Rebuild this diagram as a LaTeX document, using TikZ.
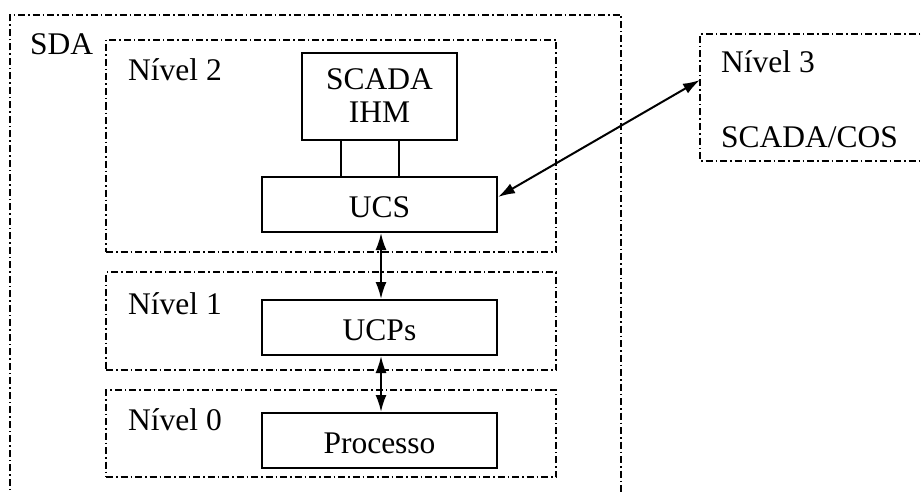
\documentclass[tikz,border=0pt]{standalone}
\usepackage{fontspec}
\setmainfont{Liberation Serif}
\usetikzlibrary{arrows.meta}
\begin{document}
\begin{tikzpicture}[x=1pt,y=-1pt,
  every node/.style={font=\fontsize{31.5}{36}\selectfont, inner sep=0pt},
  unit/.style={draw, line width=2pt, minimum width=235pt, minimum height=55pt},
  zone/.style={draw, line width=1.8pt, dash pattern=on 7pt off 3pt on 1.5pt off 3pt},
  label/.style={anchor=base west},
  tip/.style={Latex[length=17pt,width=11pt]},
  link/.style={line width=2pt, {Latex[length=17pt,width=11pt]}-{Latex[length=17pt,width=11pt]}}
]
\useasboundingbox (0,0) rectangle (923,492);

% dash-dot zones
\draw[zone] (10,500) -- (10,15) -- (621,15) -- (621,500);
\node[zone, minimum width=450pt, minimum height=212pt] (z2) at (331,146) {};
\node[zone, minimum width=450pt, minimum height=98pt] (z1) at (331,321) {};
\node[zone, minimum width=450pt, minimum height=87pt] (z0) at (331,433.5) {};
\draw[zone] (930,34) -- (700,34) -- (700,161) -- (930,161);
\coordinate (n3in) at (700,80);

% level labels
\node[label] (sda) at (30,55) {SDA};
\node[label] (l2) at (128,81) {Nível 2};
\node[label] (l1) at (128,314) {Nível 1};
\node[label] (l0) at (128,430) {Nível 0};
\node[label] (l3) at (721,73) {Nível 3};
\node[label] (cos) at (721,147) {SCADA/COS};

% units
\node[unit, minimum width=155pt, minimum height=87pt] (ihm) at (379.5,96.5) {};
\node[anchor=base] (ihmt1) at (379.5,90) {SCADA};
\node[anchor=base] (ihmt2) at (379.5,123) {IHM};
\node[unit] (ucs) at (379.5,204.5) {};
\node[anchor=base] (ucst) at (379.5,217) {UCS};
\node[unit] (ucp) at (379.5,327.5) {};
\node[anchor=base] (ucpt) at (379.5,340) {UCPs};
\node[unit] (proc) at (379.5,440.5) {};
\node[anchor=base] (proct) at (379.5,453) {Processo};

% connections
\draw[line width=2pt] (ihm.south -| 341,0) -- (ucs.north -| 341,0);
\draw[line width=2pt] (ihm.south -| 399,0) -- (ucs.north -| 399,0);
\draw[link] (ucs.south -| 381,0) -- (ucp.north -| 381,0);
\draw[link] (ucp.south -| 381,0) -- (proc.north -| 381,0);
\draw[link] ([yshift=7.5pt]ucs.east) -- (n3in);
\end{tikzpicture}
\end{document}
